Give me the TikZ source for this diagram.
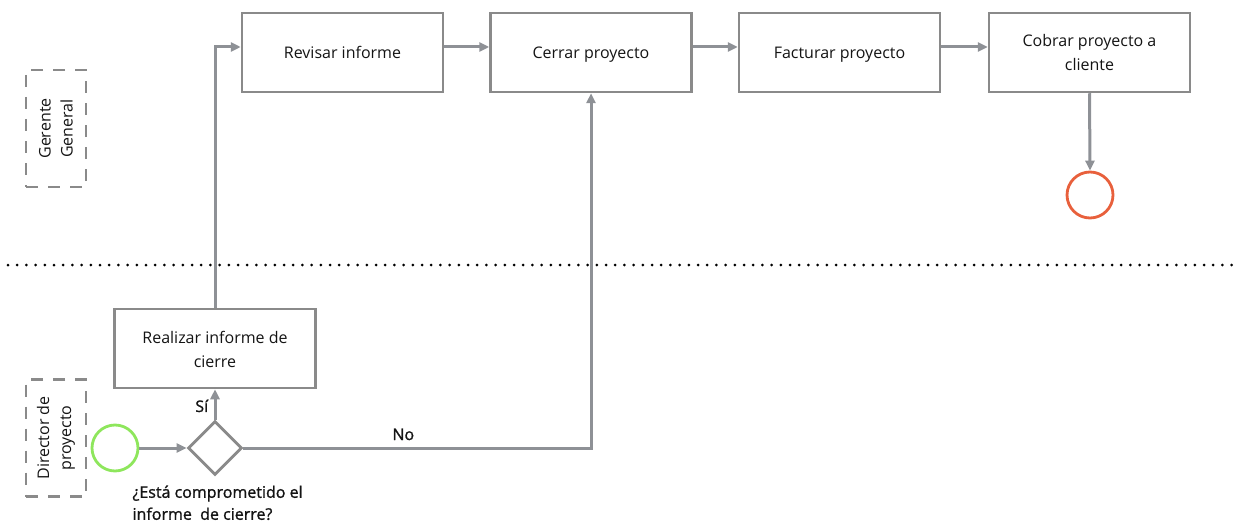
\documentclass[tikz,border=0pt]{standalone}
\usepackage{fontspec}
\setmainfont{Open Sans}
\newfontfamily\semib[FakeBold=1.2]{Open Sans}
\usetikzlibrary{arrows.meta,shapes.geometric}
\newcommand\mystrut{\rule[-4pt]{0pt}{21pt}}
\definecolor{linegray}{HTML}{8E9196}
\definecolor{boxgray}{HTML}{8A8A8A}
\definecolor{startgreen}{HTML}{8EE65C}
\definecolor{endred}{HTML}{E8603C}
\definecolor{txt}{HTML}{141414}
\tikzset{
  taskbox/.style={draw=boxgray,line width=2.5pt,minimum width=201pt,minimum height=79pt,inner sep=0pt,align=center,text=txt,font=\fontsize{16}{24}\selectfont},
  lanebox/.style={draw=boxgray,line width=2.8pt,dash pattern=on 12pt off 10pt,minimum width=60pt,minimum height=117pt,inner sep=0pt},
  flow/.style={draw=linegray,line width=3pt,-{Triangle[length=10pt,width=9pt]}},
  lbl/.style={text=txt,font=\fontsize{16}{22}\selectfont},
  semilbl/.style={text=txt,font=\semib\fontsize{16}{22}\selectfont},
}
\begin{document}
\begin{tikzpicture}[x=1pt,y=-1pt]
\useasboundingbox (0,0) rectangle (1238,524);
% lanes
\draw[black,line width=3pt,dash pattern=on 0pt off 9.2pt,line cap=round] (8,265) -- (1235,265);
\node[lanebox] (lane1) at (56,128.5) {};
\node[lbl,rotate=90,align=center] (lane1t) at (56,128.5) {Gerente\\General};
\node[lanebox] (lane2) at (56,438) {};
\node[lbl,rotate=90,align=center] (lane2t) at (56,438) {Director de\\proyecto};
% tasks
\node[taskbox] (revisar) at (342.5,52.5) {\mystrut Revisar informe};
\node[taskbox] (cerrar) at (591,52.5) {\mystrut Cerrar proyecto};
\node[taskbox] (facturar) at (839.5,52.5) {\mystrut Facturar proyecto};
\node[taskbox] (cobrar) at (1089.5,52.5) {\mystrut Cobrar proyecto a\\\mystrut cliente};
\node[taskbox] (realizar) at (215,348.5) {\mystrut Realizar informe de\\\mystrut cierre};
% events
\node[circle,draw=startgreen,line width=2.8pt,minimum size=46pt,inner sep=0pt] (start) at (115,448) {};
\node[circle,draw=endred,line width=2.8pt,minimum size=46pt,inner sep=0pt] (end) at (1090,195) {};
\node[diamond,draw=boxgray,line width=2.8pt,minimum width=54pt,minimum height=54pt,inner sep=0pt] (gw) at (215,448) {};
\node[semilbl,anchor=north west,align=left] (q) at (129,482) {¿Está comprometido el\\informe~ de cierre?};
% flows
\draw[flow] (start.east) -- (gw.west);
\draw[flow] (gw.north) -- (realizar.south) node[semilbl,pos=0.45,left=2pt] (si) {Sí};
\draw[flow] (realizar.north) |- ([yshift=5.5pt]revisar.west);
\draw[flow] (gw.east) -| (cerrar.south) node[semilbl,pos=0.23,above=3pt] (no) {No};
\draw[flow] ([yshift=5.5pt]revisar.east) -- ([yshift=5.5pt]cerrar.west);
\draw[flow] ([yshift=5.5pt]cerrar.east) -- ([yshift=5.5pt]facturar.west);
\draw[flow] ([yshift=5.5pt]facturar.east) -- ([yshift=5.5pt]cobrar.west);
\draw[flow] (cobrar.south) -- (end.north);
\end{tikzpicture}
\end{document}
